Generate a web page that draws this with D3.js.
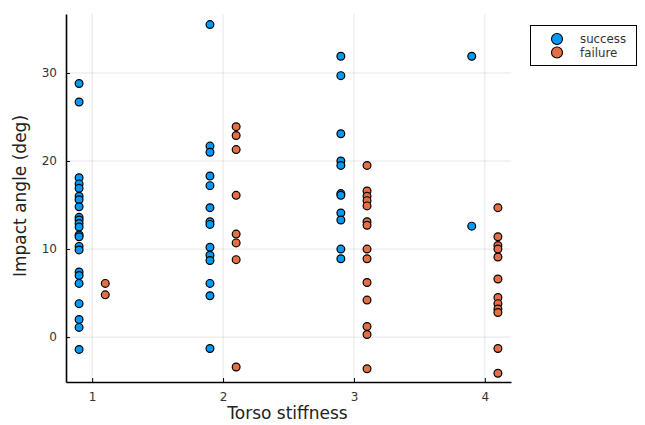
<!DOCTYPE html>
<html><head><meta charset="utf-8">
<script src="https://cdn.jsdelivr.net/npm/d3@7"></script>
<style>body{margin:0;background:#fff}svg{display:block}text{font-family:"DejaVu Sans",sans-serif}</style>
</head><body><svg id="c" width="645" height="425"></svg>
<script>
const seriesNames = ["success", "failure"];
const seriesColors = ["#009AFA", "#E26F46"];
// x position of each group of points (stiffness level, dodged)
const successX = [0.9, 1.9, 2.9, 3.9];
const successY = [
  [28.8,26.7,18.1,17.4,16.9,16.0,15.6,14.8,13.6,13.3,12.9,12.5,11.6,11.4,10.3,9.9,7.4,7.0,6.1,3.8,2.0,1.1,-1.4],
  [35.5,21.7,21.0,18.3,17.2,14.7,13.1,12.8,10.2,9.3,8.7,6.1,4.7,-1.3],
  [31.9,29.7,23.1,20.0,19.5,16.3,16.1,14.1,13.3,10.0,8.9],
  [31.9,12.6]
];
const failureX = [1.1, 2.1, 3.1, 4.1];
const failureY = [
  [6.1,4.8],
  [23.9,22.9,21.3,16.1,11.7,10.7,8.8,-3.4],
  [19.5,16.6,16.0,15.5,14.9,13.1,12.7,10.0,8.9,6.2,4.2,1.2,0.3,-3.6],
  [14.7,11.4,10.4,10.0,9.1,6.6,4.5,3.8,3.2,2.8,-1.3,-4.1]
];
const xTicks = [1,2,3,4];
const yTicks = [0,10,20,30];

const svg = d3.select("#c");
const L = 66, R = 511, T = 14, B = 382;
const x = d3.scaleLinear().domain([0.8, 4.2]).range([L, R]);
const y = d3.scaleLinear().domain([-5.1, 36.7]).range([B, T]);

// grid
svg.append("g").selectAll("line").data(xTicks).join("line")
  .attr("x1", d=>x(d)).attr("x2", d=>x(d)).attr("y1", T).attr("y2", B)
  .attr("stroke", "#000").attr("stroke-opacity", 0.1).attr("stroke-width", 1);
svg.append("g").selectAll("line").data(yTicks).join("line")
  .attr("y1", d=>y(d)).attr("y2", d=>y(d)).attr("x1", L).attr("x2", R)
  .attr("stroke", "#000").attr("stroke-opacity", 0.1).attr("stroke-width", 1);

// axes
const xAxis = svg.append("g").attr("transform", `translate(0,${B})`)
  .call(d3.axisBottom(x).tickValues(xTicks).tickFormat(d3.format("d")).tickSizeInner(-4).tickSizeOuter(0).tickPadding(10));
const yAxis = svg.append("g").attr("transform", `translate(${L},0)`)
  .call(d3.axisLeft(y).tickValues(yTicks).tickFormat(d3.format("d")).tickSizeInner(-4).tickSizeOuter(0).tickPadding(9));
[xAxis, yAxis].forEach(a => {
  a.select(".domain").attr("stroke", "#000").attr("stroke-width", 1.6);
  a.selectAll(".tick line").attr("stroke", "#000").attr("stroke-width", 1);
  a.selectAll(".tick text").attr("font-size", 12).attr("fill", "#333").attr("font-family", "DejaVu Sans");
});

// points
const data = [
  {name: seriesNames[0], color: seriesColors[0], xs: successX, ys: successY},
  {name: seriesNames[1], color: seriesColors[1], xs: failureX, ys: failureY}
];
data.forEach(s => {
  const pts = s.ys.flatMap((grp,i) => grp.map(v => ({x: s.xs[i], y: v})));
  svg.append("g").selectAll("circle").data(pts).join("circle")
    .attr("cx", d=>x(d.x)).attr("cy", d=>y(d.y)).attr("r", 3.9)
    .attr("fill", s.color).attr("stroke", "#000").attr("stroke-width", 1.2);
});

// labels
svg.append("text").attr("x", 287.5).attr("y", 419).attr("text-anchor", "middle")
  .attr("font-size", 17).attr("fill", "#222").text("Torso stiffness");
svg.append("text").attr("transform", `translate(26,196) rotate(-90)`).attr("text-anchor", "middle")
  .attr("font-size", 17).attr("fill", "#222").text("Impact angle (deg)");

// legend
const lg = svg.append("g");
lg.append("rect").attr("x", 530.5).attr("y", 25.5).attr("width", 106).attr("height", 40)
  .attr("fill", "#fff").attr("stroke", "#000").attr("stroke-width", 1);
data.forEach((s,i) => {
  lg.append("circle").attr("cx", 557).attr("cy", 39 + i*13.5).attr("r", 5.5)
    .attr("fill", s.color).attr("stroke", "#000").attr("stroke-width", 1.1);
  lg.append("text").attr("x", 580).attr("y", 42.5 + i*14).attr("font-size", 11.8).attr("fill", "#333").text(s.name);
});
</script></body></html>
